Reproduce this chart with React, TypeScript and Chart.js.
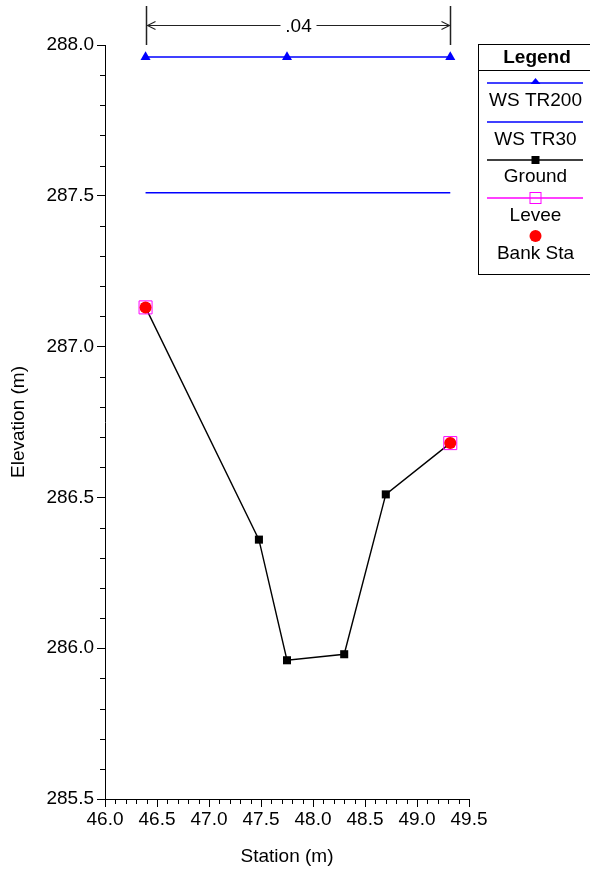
import React, { useEffect, useRef } from "react";
import { Chart, registerables } from "chart.js";

Chart.register(...registerables);

const groundStation = [46.39, 47.48, 47.75, 48.3, 48.7, 49.32];
const groundElev = [287.13, 286.36, 285.96, 285.98, 286.51, 286.68];
const wsTR200Station = [46.39, 47.75, 49.32];
const wsTR200Elev = [287.96, 287.96, 287.96];
const wsTR30Station = [46.39, 49.32];
const wsTR30Elev = [287.51, 287.51];
const bankStation = [46.39, 49.32];
const bankElev = [287.13, 286.68];
const leveeStation = [46.39, 49.32];
const leveeElev = [287.13, 286.68];
const nValueLabel = ".04";
const nValueStations = [46.39, 49.32];
const legendLabels = ["WS TR200", "WS TR30", "Ground", "Levee", "Bank Sta"];

const FONT = "'Liberation Sans', Arial, sans-serif";
const FS = 19;

const pts = (xs: number[], ys: number[]) => xs.map((x, i) => ({ x, y: ys[i] }));

const minorTicksPlugin = {
  id: "minorTicks",
  afterDraw(chart: any) {
    const ctx = chart.ctx;
    const xs = chart.scales.x;
    const ys = chart.scales.y;
    const area = chart.chartArea;
    ctx.save();
    ctx.strokeStyle = "#000";
    ctx.lineWidth = 1;
    ctx.beginPath();
    for (let i = 0; i <= 35; i++) {
      if (i % 5 === 0) continue;
      const px = Math.round(xs.getPixelForValue(46 + i * 0.1)) + 0.5;
      ctx.moveTo(px, area.bottom);
      ctx.lineTo(px, area.bottom + 5);
    }
    for (let i = 0; i <= 25; i++) {
      if (i % 5 === 0) continue;
      const py = Math.round(ys.getPixelForValue(285.5 + i * 0.1)) + 0.5;
      ctx.moveTo(area.left, py);
      ctx.lineTo(area.left - 5, py);
    }
    ctx.stroke();

    // Manning's n annotation
    const xl = Math.round(xs.getPixelForValue(nValueStations[0])) + 0.5;
    const xr = Math.round(xs.getPixelForValue(nValueStations[1])) + 0.5;
    ctx.strokeStyle = "#222";
    ctx.lineWidth = 1.5;
    ctx.beginPath();
    ctx.moveTo(xl, 6);
    ctx.lineTo(xl, 45);
    ctx.moveTo(xr, 6);
    ctx.lineTo(xr, 45);
    ctx.stroke();
    ctx.lineWidth = 1.1;
    ctx.beginPath();
    const ay = 25.5;
    const mid = (xl + xr) / 2;
    ctx.moveTo(xl, ay);
    ctx.lineTo(mid - 18, ay);
    ctx.moveTo(mid + 18, ay);
    ctx.lineTo(xr, ay);
    // arrowheads
    ctx.moveTo(xl + 9, ay - 4);
    ctx.lineTo(xl + 1, ay);
    ctx.lineTo(xl + 9, ay + 4);
    ctx.moveTo(xr - 9, ay - 4);
    ctx.lineTo(xr - 1, ay);
    ctx.lineTo(xr - 9, ay + 4);
    ctx.stroke();
    ctx.fillStyle = "#000";
    ctx.font = `${FS}px ${FONT}`;
    ctx.textAlign = "center";
    ctx.textBaseline = "middle";
    ctx.fillText(nValueLabel, mid, 27);

    // Legend box
    const bx = 478.5;
    const by = 44.5;
    const bw = 120;
    const bh = 230;
    ctx.strokeStyle = "#000";
    ctx.lineWidth = 1;
    ctx.strokeRect(bx, by, bw, bh);
    ctx.beginPath();
    ctx.moveTo(bx, 70.5);
    ctx.lineTo(bx + bw, 70.5);
    ctx.stroke();
    ctx.font = `bold ${FS}px ${FONT}`;
    ctx.fillText("Legend", 537, 58);
    const lx1 = 487;
    const lx2 = 583;
    const cx = 535.5;
    ctx.font = `${FS}px ${FONT}`;
    const lineAt = (y: number, color: string) => {
      ctx.strokeStyle = color;
      ctx.lineWidth = 1.3;
      ctx.beginPath();
      ctx.moveTo(lx1, y);
      ctx.lineTo(lx2, y);
      ctx.stroke();
    };
    // WS TR200
    lineAt(83, "#0000FF");
    ctx.fillStyle = "#0000FF";
    ctx.beginPath();
    ctx.moveTo(cx, 78);
    ctx.lineTo(cx + 5, 84);
    ctx.lineTo(cx - 5, 84);
    ctx.closePath();
    ctx.fill();
    ctx.fillStyle = "#000";
    ctx.fillText(legendLabels[0], cx, 101);
    // WS TR30
    lineAt(122, "#0000FF");
    ctx.fillStyle = "#000";
    ctx.fillText(legendLabels[1], cx, 140);
    // Ground
    lineAt(160, "#000");
    ctx.fillRect(cx - 4, 156, 8, 8);
    ctx.fillText(legendLabels[2], cx, 177);
    // Levee
    lineAt(198, "#FF00FF");
    ctx.strokeStyle = "#FF00FF";
    ctx.lineWidth = 1;
    ctx.strokeRect(cx - 5.5, 192.5, 11, 11);
    ctx.fillStyle = "#000";
    ctx.fillText(legendLabels[3], cx, 216);
    // Bank Sta
    ctx.fillStyle = "#FF0000";
    ctx.beginPath();
    ctx.arc(cx, 236, 6, 0, Math.PI * 2);
    ctx.fill();
    ctx.fillStyle = "#000";
    ctx.fillText(legendLabels[4], cx, 254);
    ctx.restore();
  },
};

export default function App() {
  const ref = useRef<HTMLCanvasElement>(null);
  useEffect(() => {
    if (!ref.current) return;
    Chart.defaults.font.family = FONT;
    const chart = new Chart(ref.current, {
      type: "scatter",
      data: {
        datasets: [
          {
            label: legendLabels[4],
            data: pts(bankStation, bankElev),
            showLine: false,
            pointStyle: "circle",
            pointRadius: 6,
            pointBackgroundColor: "#FF0000",
            pointBorderWidth: 0,
            order: 0,
          },
          {
            label: legendLabels[3],
            data: pts(leveeStation, leveeElev),
            showLine: false,
            pointStyle: "rect",
            pointRadius: 9.2,
            pointBackgroundColor: "rgba(0,0,0,0)",
            pointBorderColor: "#FF00FF",
            pointBorderWidth: 1,
            order: 1,
          },
          {
            label: legendLabels[2],
            data: pts(groundStation, groundElev),
            showLine: true,
            borderColor: "#000",
            borderWidth: 1.4,
            pointStyle: "rect",
            pointRadius: 5.7,
            pointBackgroundColor: "#000",
            pointBorderWidth: 0,
            order: 2,
          },
          {
            label: legendLabels[0],
            data: pts(wsTR200Station, wsTR200Elev),
            showLine: true,
            borderColor: "#0000FF",
            borderWidth: 1.4,
            pointStyle: "triangle",
            pointRadius: 5.8,
            pointBackgroundColor: "#0000FF",
            pointBorderWidth: 0,
            order: 3,
          },
          {
            label: legendLabels[1],
            data: pts(wsTR30Station, wsTR30Elev),
            showLine: true,
            borderColor: "#0000FF",
            borderWidth: 1.4,
            pointRadius: 0,
            order: 4,
          },
        ],
      },
      options: {
        responsive: false,
        animation: false,
        devicePixelRatio: 1,
        layout: { padding: { top: 45, right: 121, left: 0, bottom: 0 } },
        plugins: {
          legend: { display: false },
          tooltip: { enabled: false },
          title: { display: false },
        },
        scales: {
          x: {
            type: "linear",
            min: 46,
            max: 49.5,
            afterFit: (s: any) => {
              s.height = 71;
            },
            ticks: {
              stepSize: 0.5,
              color: "#000",
              font: { size: FS },
              padding: 1,
              maxRotation: 0,
              callback: (v: any) => Number(v).toFixed(1),
            },
            grid: {
              display: true,
              drawOnChartArea: false,
              drawTicks: true,
              tickLength: 8,
              color: "#000",
            },
            border: { display: true, color: "#000", width: 1 },
            title: {
              display: true,
              text: "Station (m)",
              color: "#000",
              font: { size: FS },
              padding: { top: 0, bottom: 2 },
            },
          },
          y: {
            type: "linear",
            min: 285.5,
            max: 288,
            afterFit: (s: any) => {
              s.width = 105;
            },
            ticks: {
              stepSize: 0.5,
              color: "#000",
              font: { size: FS },
              padding: 3,
              callback: (v: any) => Number(v).toFixed(1),
            },
            grid: {
              display: true,
              drawOnChartArea: false,
              drawTicks: true,
              tickLength: 8,
              color: "#000",
            },
            border: { display: true, color: "#000", width: 1 },
            title: {
              display: true,
              text: "Elevation (m)",
              color: "#000",
              font: { size: FS },
              padding: { top: 7, bottom: 0 },
            },
          },
        },
      },
      plugins: [minorTicksPlugin],
    } as any);
    return () => chart.destroy();
  }, []);
  return (
    <div style={{ position: "absolute", left: 0, top: 0, width: 590, height: 870, background: "#fff" }}>
      <canvas ref={ref} width={590} height={870} style={{ display: "block" }} />
    </div>
  );
}
